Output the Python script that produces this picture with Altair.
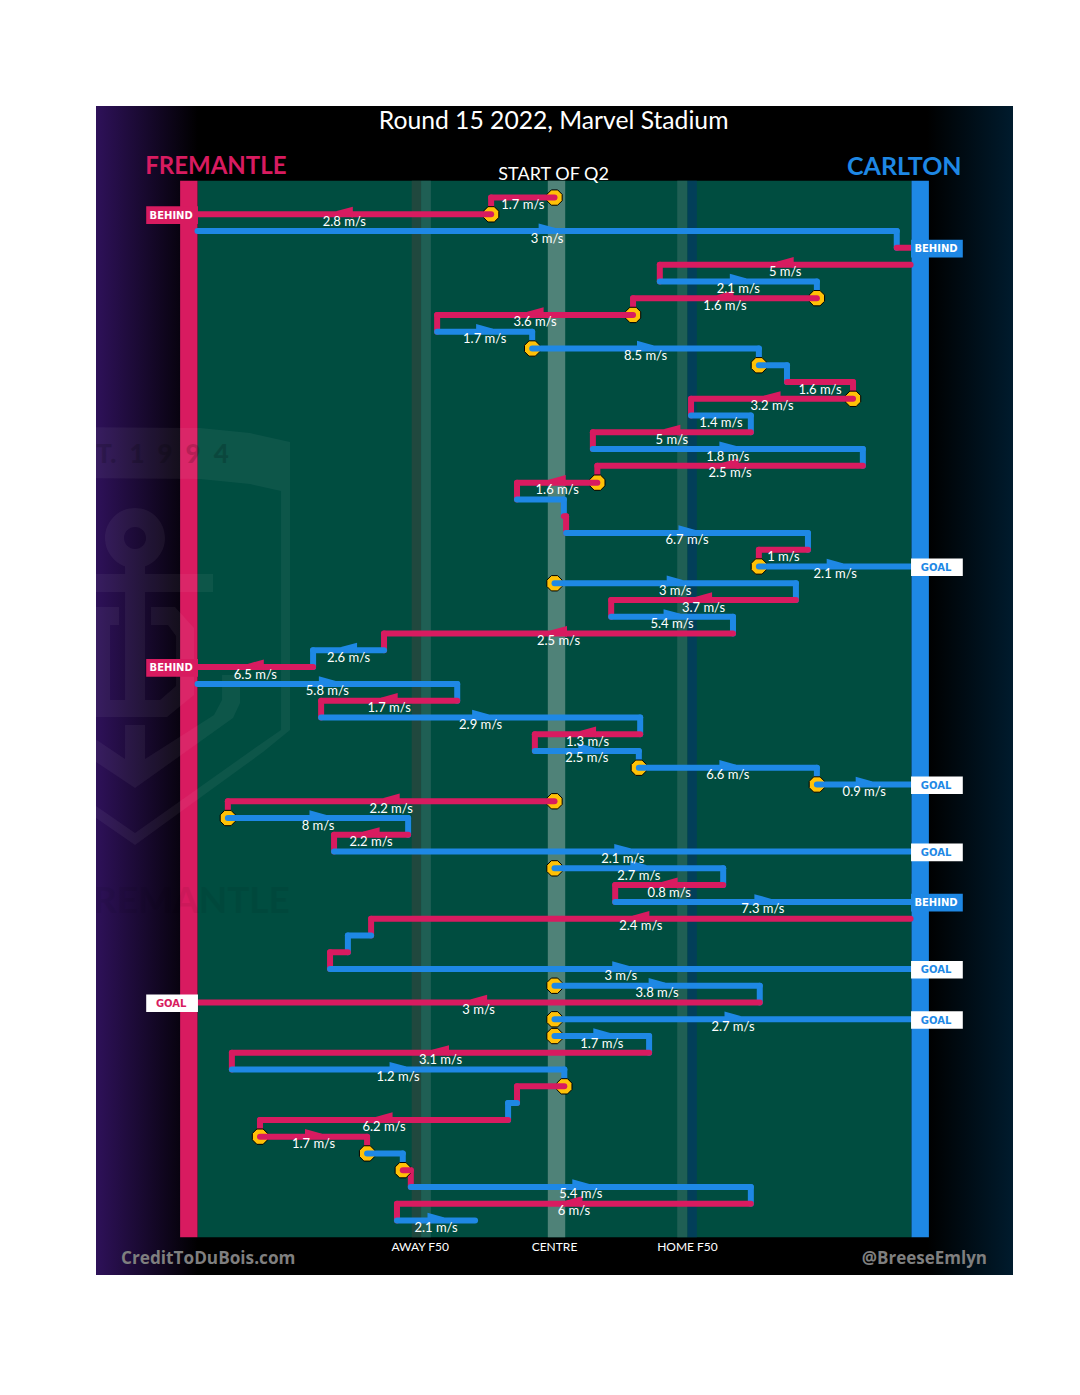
import altair as alt
import pandas as pd

# ---- chart values (x: metres from the centre of the ground, y: chain row) ----
TEAMS = "FFCFFCFFCCCFFCFCFFCFCFCCFCFCFCFCFCCCFCFCCFCFCFCCFCCFCFCFFCFCFC"
ROW_ENDS = [-14.2, -80, 76.7, 79.8, 23.6, 58.8, 17.6, -26.3, -5.0, 45.8, 52.1, 66.9,
            30.6, 44.0, 8.6, 69.1, 9.6, -8.4, 2.1, 2.6, 56.8, 45.8, 80, 54.1, 12.7,
            40, -38.2, -54.1, -80, -21.8, -52.3, 19.2, -4.4, 18.9, 58.8, 80, -73.2,
            -32.8, -49.4, 80, 37.8, 13.6, 79.8, -41.1, -46.3, -50.3, 80, 46, -80, 80,
            21.2, -72.3, 2.2, -8.4, -10.4, -66, -42, -34, -32.2, 44, -35.3, -17.8]
CHAIN_START_ROWS = [0, 2, 4, 23, 29, 36, 40, 43, 47, 49, 50]
CHAIN_START_X = [0, -80, 79.8, 0, -80, 0, 0, 79.8, 0, 0, 0]
SPEEDS = [1.7, 2.8, 3, None, 5, 2.1, 1.6, 3.6, 1.7, 8.5, None, 1.6, 3.2, 1.4, 5, 1.8, 2.5,
          1.6, None, None, 6.7, 1, 2.1, 3, 3.7, 5.4, 2.5, 2.6, 6.5, 5.8, 1.7, 2.9, 1.3, 2.5,
          6.6, 0.9, 2.2, 8, 2.2, 2.1, 2.7, 0.8, 7.3, 2.4, None, None, 3, 3.8, 3, 2.7, 1.7,
          3.1, 1.2, None, None, 6.2, 1.7, None, None, 5.4, 6, 2.1]
STOPPAGE_ROWS = [0, 1, 6, 7, 9, 10, 12, 17, 22, 23, 34, 35, 36, 37, 40, 47, 49, 50, 53, 56, 57, 58]
BEHIND_ROWS = [1, 3, 28, 42]
GOAL_ROWS = [22, 35, 39, 46, 48, 49]
MIN_ARROW_RUN = 15.5  # shorter runs carry a speed label but no direction arrow

TITLE = "Round 15 2022, Marvel Stadium"
ZONE_LABELS = ["AWAY F50", "CENTRE", "HOME F50"]
ZONE_X = [-30.1, 0, 29.8]

RED, BLUE, GREEN, GOLD = "#D81B60", "#1E88E5", "#004D40", "#FFC107"
team_name = {"F": "Fremantle", "C": "Carlton"}
team_scale = alt.Scale(domain=["Fremantle", "Carlton"], range=[RED, BLUE])

XD, YD = [-102.75, 102.75], [64.25, -5.46]
sx = alt.Scale(domain=XD, nice=False, zero=False)
sy = alt.Scale(domain=YD, nice=False, zero=False)
X = lambda f="x": alt.X(f"{f}:Q", scale=sx, axis=None)
Y = lambda f="row": alt.Y(f"{f}:Q", scale=sy, axis=None)

# ---- derived tables ----
starts = {}
for i in range(len(ROW_ENDS)):
    if i in CHAIN_START_ROWS:
        starts[i] = CHAIN_START_X[CHAIN_START_ROWS.index(i)]
    else:
        starts[i] = ROW_ENDS[i - 1]
runs, links, mids = [], [], []
for i, end in enumerate(ROW_ENDS):
    t = team_name[TEAMS[i]]
    runs += [dict(seg=i, ord=0, x=starts[i], row=i, team=t),
             dict(seg=i, ord=1, x=end, row=i, team=t)]
    if i + 1 < len(ROW_ENDS) and (i + 1) not in CHAIN_START_ROWS:
        links += [dict(seg=i, ord=0, x=end, row=i, team=t),
                  dict(seg=i, ord=1, x=end, row=i + 1, team=t)]
    if SPEEDS[i] is not None:
        mids.append(dict(x=(starts[i] + end) / 2, row=i, team=t,
                         label=f"{SPEEDS[i]:g} m/s", right=end > starts[i],
                         arrow=abs(end - starts[i]) >= MIN_ARROW_RUN))
runs = pd.DataFrame(runs)
links = pd.DataFrame(links)
mids = pd.DataFrame(mids)
stops = pd.DataFrame([dict(x=starts[r], row=r) for r in STOPPAGE_ROWS])


def outcome(rows, word):
    out = []
    for r in rows:
        left = ROW_ENDS[r] < 0
        t = "Fremantle" if left else "Carlton"
        a, b = (-91.5, -79.9) if left else (79.9, 91.5)
        out.append(dict(x=a, x2=b, xc=(a + b) / 2 - 0.2, row=r + 0.08, r0=r - 0.48, r1=r + 0.57, team=t, word=word))
    return pd.DataFrame(out)


def band(x0, x1, color, r0=-1, r1=62):
    d = pd.DataFrame([dict(x=x0, x2=x1, r0=r0, r1=r1)])
    return alt.Chart(d).mark_rect(fill=color, stroke=None).encode(x=X(), x2="x2:Q", y=Y("r0"), y2="r1:Q")


def label(text, x, row, size, color, weight=400, font="Lato", align="center", opacity=1, clip=False):
    d = pd.DataFrame([dict(x=x, row=row, t=text)])
    return alt.Chart(d).mark_text(fontSize=size, color=color, fontWeight=weight, font=font, align=align,
                                  baseline="middle", opacity=opacity, clip=clip).encode(x=X(), y=Y(), text="t:N")


def grad(c0, c1):
    return alt.LinearGradient(gradient="linear", x1=0, x2=1, y1=0, y2=0,
                              stops=[alt.GradientStop(color=c0, offset=0), alt.GradientStop(color=c1, offset=1)])


def track(table):
    return alt.Chart(table).mark_line(strokeWidth=6, strokeCap="round", strokeJoin="round").encode(
        x=X(), y=Y(), detail="seg:N", order="ord:Q",
        color=alt.Color("team:N", scale=team_scale, legend=None))


# ---- faint club crest watermark (pixel-unit symbol path around its centre) ----
CX, CY = 135, 636
POLYS = [
    [(60, 427), (200, 428), (250, 433), (290, 442), (290, 730), (263, 752), (135, 845), (60, 793),
     (60, 781), (135, 833), (255, 748), (281, 730), (281, 491), (250, 484), (200, 479), (60, 478)],
    [(57, 574), (213, 574), (213, 592), (57, 592)],
    [(125, 560), (145, 560), (145, 705), (125, 705)],
    [(151, 607), (175, 607), (194, 628), (194, 695), (167, 717), (60, 717), (60, 607), (119, 607),
     (119, 625), (110, 625), (110, 700), (160, 700), (176, 686), (176, 636), (168, 625), (151, 625)],
    [(222, 675), (240, 675), (240, 703), (233, 718), (135, 788), (60, 738), (60, 715), (125, 759),
     (125, 725), (145, 725), (145, 759), (214, 715), (222, 700)],
]


def crest_path():
    parts = []
    for poly in POLYS:
        area = sum(poly[i][0] * poly[(i + 1) % len(poly)][1] - poly[(i + 1) % len(poly)][0] * poly[i][1]
                   for i in range(len(poly)))
        pts = poly if area > 0 else poly[::-1]
        parts.append("M" + " L".join(f"{x - CX} {y - CY}" for x, y in pts) + " Z")
    cy = 538 - CY
    parts.append(f"M-30 {cy} A30 30 0 1 1 30 {cy} A30 30 0 1 1 -30 {cy} Z")
    parts.append(f"M-11 {cy} A11 11 0 1 0 11 {cy} A11 11 0 1 0 -11 {cy} Z")
    return " ".join(parts)


crest = alt.Chart(pd.DataFrame([dict(x=(CX - 554.5) / 4.4625, row=(CY - 197.5) / 16.77)])).mark_point(
    shape=crest_path(), size=4, filled=True, fill="#ffffff", stroke=None, opacity=0.05, clip=True
).encode(x=X(), y=Y())

# ---- layers ----
OCTAGON = "M-0.41 -1 L0.41 -1 L1 -0.41 L1 0.41 L0.41 1 L-0.41 1 L-1 0.41 L-1 -0.41 Z"
ARROW_R = "M-1 -0.9 L1 -0.35 L-1 0.4 Z"
ARROW_L = "M1 -0.9 L-1 -0.35 L1 0.4 Z"
arrows_r = mids[mids.arrow & mids.right]
arrows_l = mids[mids.arrow & ~mids.right]

layers = [
    band(XD[0], XD[1], "#000000", YD[1], YD[0]),
    band(XD[0], -79.9, grad("#2E1159", "#000000"), YD[1], YD[0]),
    band(83.5, XD[1], grad("#000000", "#001B2D"), YD[1], YD[0]),
    band(-80, 80, GREEN),
    band(-32, -29.9, "#20483E"),
    band(-29.9, -27.7, "#1F5F54"),
    band(-1.5, 2.4, "#4F8278"),
    band(27.5, 29.8, "#1F5F54"),
    band(29.8, 31.9, "#023F59"),
    band(-83.9, -80, RED),
    band(80, 83.9, BLUE),
    crest,
    label("T.\u20021\u20029\u20029\u20024", -102.7, 15.35, 26, "#000000", 900, align="left", opacity=0.16, clip=True),
    label("FREMANTLE", -59.3, 42.0, 37, "#000000", 700, align="right", opacity=0.05, clip=True),
    track(links),
    alt.Chart(stops).mark_point(shape=OCTAGON, size=235, filled=True, fill=GOLD, stroke="#000000",
                                strokeWidth=1, opacity=1).encode(x=X(), y=Y()),
    track(runs),
    alt.Chart(arrows_r).mark_point(shape=ARROW_R, size=290, filled=True, opacity=1, strokeWidth=0).encode(
        x=X(), y=Y(), fill=alt.Fill("team:N", scale=team_scale, legend=None)),
    alt.Chart(arrows_l).mark_point(shape=ARROW_L, size=290, filled=True, opacity=1, strokeWidth=0).encode(
        x=X(), y=Y(), fill=alt.Fill("team:N", scale=team_scale, legend=None)),
    alt.Chart(mids).mark_text(fontSize=13, font="Lato", color="#FFFFFF", baseline="middle", dy=7.5).encode(
        x=X(), y=Y(), text="label:N"),
    alt.Chart(outcome(BEHIND_ROWS, "BEHIND")).mark_rect(stroke=None).encode(
        x=X(), x2="x2:Q", y=Y("r0"), y2="r1:Q", fill=alt.Fill("team:N", scale=team_scale, legend=None)),
    alt.Chart(outcome(BEHIND_ROWS, "BEHIND")).mark_text(fontSize=10, font="DejaVu Sans", fontWeight=700,
                                                       color="#FFFFFF", baseline="middle").encode(
        x=X("xc"), y=Y(), text="word:N"),
    alt.Chart(outcome(GOAL_ROWS, "GOAL")).mark_rect(fill="#FFFFFF", stroke=None).encode(
        x=X(), x2="x2:Q", y=Y("r0"), y2="r1:Q"),
    alt.Chart(outcome(GOAL_ROWS, "GOAL")).mark_text(fontSize=10, font="DejaVu Sans", fontWeight=700,
                                                   baseline="middle").encode(
        x=X("xc"), y=Y(), text="word:N", color=alt.Color("team:N", scale=team_scale, legend=None)),
    label(TITLE, -0.2, -4.52, 24.7, "#FFFFFF"),
    label("FREMANTLE", -75.9, -1.84, 24, RED, 700),
    label("CARLTON", 78.4, -1.84, 25, BLUE, 700),
    label("START OF Q2", -0.2, -1.32, 18, "#FFFFFF"),
    label("CreditToDuBois.com", -77.6, 63.3, 17.2, "#7F7F7F", 700, font="Open Sans"),
    label("@BreeseEmlyn", 82.9, 63.3, 17, "#7F7F7F", 700, font="Open Sans"),
]
for name, x in zip(ZONE_LABELS, ZONE_X):
    layers.append(label(name, x, 62.58, 12, "#FFFFFF"))

chart = alt.layer(*layers).resolve_scale(color="shared").properties(
    width=917, height=1169,
    padding={"left": 88, "top": 98, "right": 0, "bottom": 0},
    autosize=alt.AutoSizeParams(type="none"),
    background="#FFFFFF",
).configure_view(strokeWidth=0)

chart.save("out.html", embed_options={"renderer": "svg", "actions": False})
